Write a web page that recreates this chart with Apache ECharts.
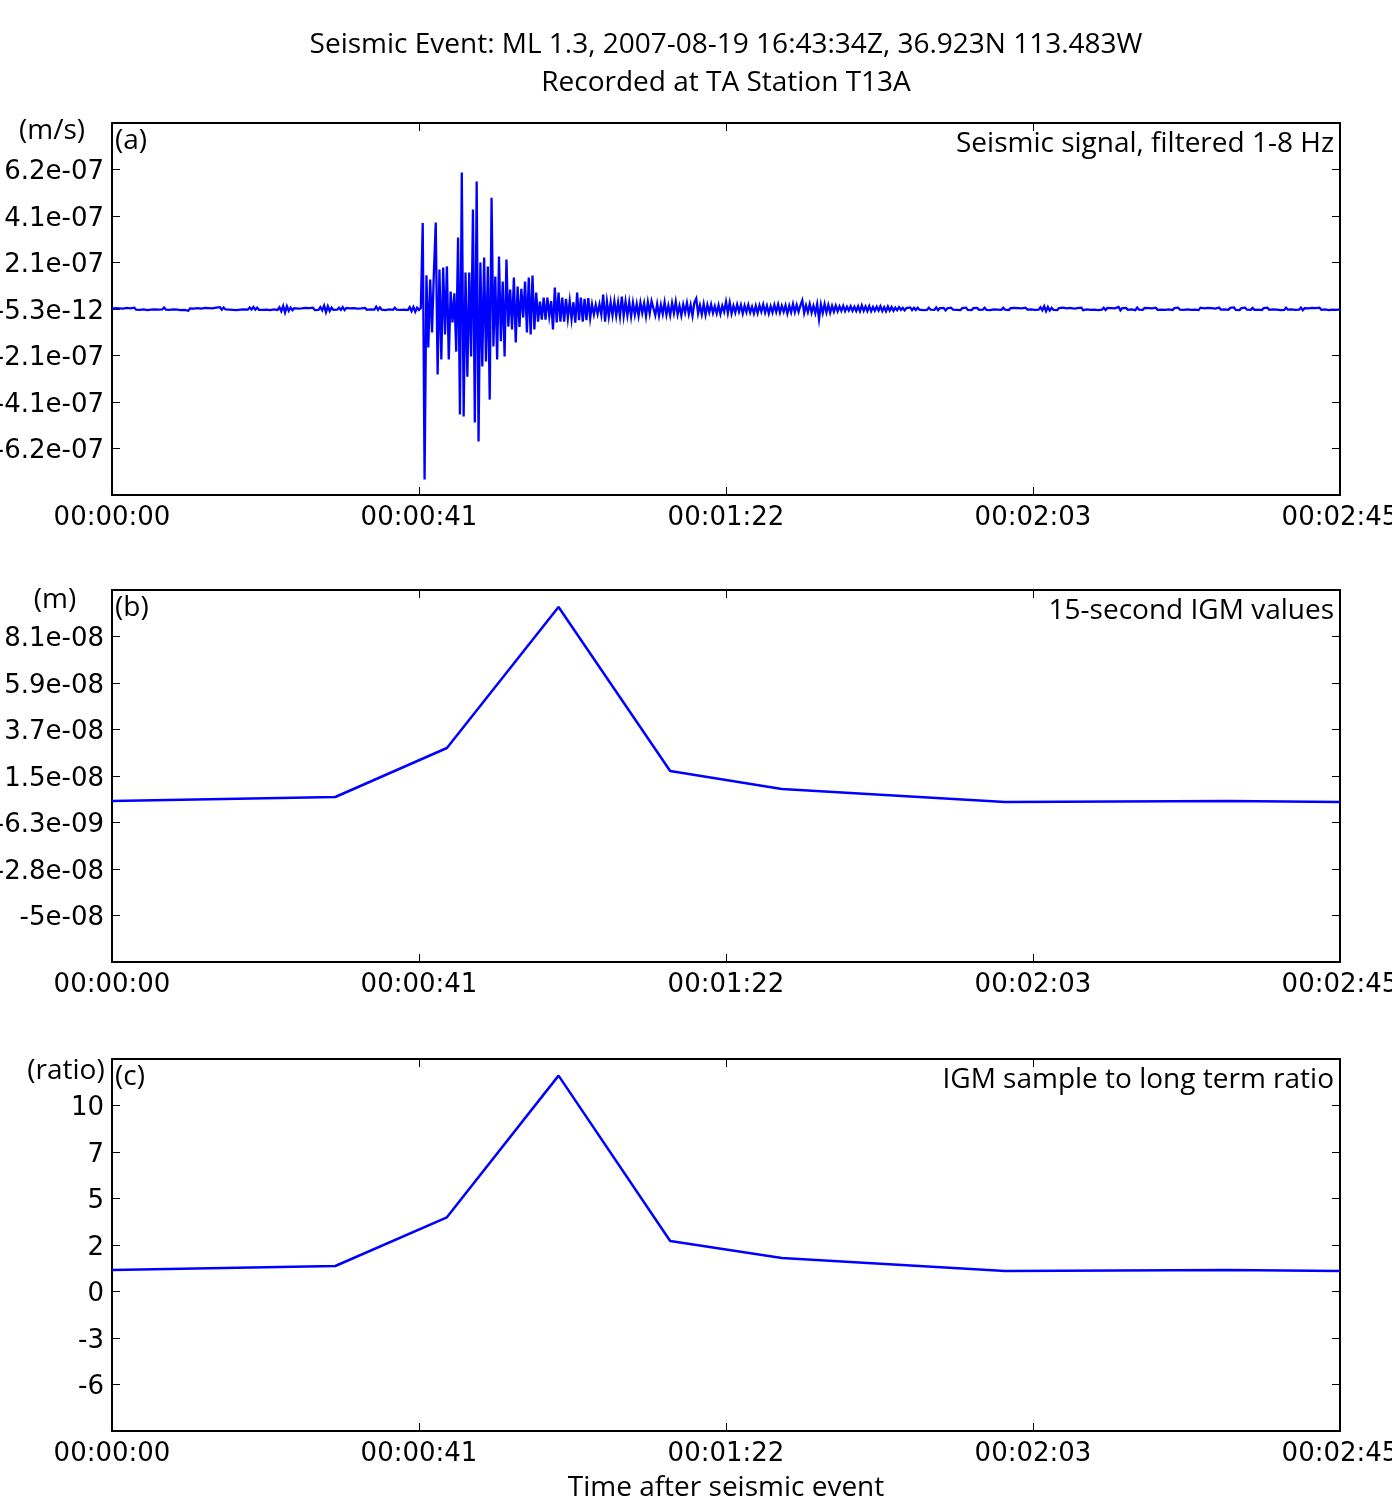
<!DOCTYPE html>
<html>
<head>
<meta charset="utf-8">
<script src="https://cdn.jsdelivr.net/npm/echarts@6/dist/echarts.min.js"></script>
<style>
html,body{margin:0;padding:0;background:#fff;}
#chart{width:1392px;height:1498px;}
</style>
</head>
<body>
<div id="chart"></div>
<script>
// ---------------- DATA ----------------
const titleLines = ['Seismic Event: ML 1.3, 2007-08-19 16:43:34Z, 36.923N 113.483W', 'Recorded at TA Station T13A'];
const xTickLabels = ['00:00:00', '00:00:41', '00:01:22', '00:02:03', '00:02:45'];
const xLabel = 'Time after seismic event';

// Panel (a): velocity in nm/s, one sample every 0.25 s from t = 0 s
const waveDt = 0.25;
const wavePreEvent = [
  2,-3,4,-2,3,-4,2,-3, 5,-2,3,-4,6,-3,2,-4, 3,-2,4,-5,2,-3,5,-2, 6,-3,4,-2,7,-3,5,-4, 3,-2,4,-3,2,-5,3,-4,
  -6,-8,3,-5,2,-4,4,-3, 2,-3,5,-2,4,-4,3,-2, 6,-2,8,-3,7,-2,4,-3, 3,-4,2,-5,3,-3,4,-2, 5,-3,7,-2,9,-3,6,-4,
  3,-4,2,-3,4,-5,3,-2, 5,-4,8,-10,14,-16,12,-8, 6,-5,4,-3,2,-6,3,-4, 5,-3,4,-4,6,-5,3,-4, 8,-6,15,-14,12,-9,6,-4,
  4,-3,6,-4,8,-5,5,-3, 3,-2,4,-3,2,-4,3,-3, 5,-4,3,-2,6,-3,10,-4, 7,-3,4,-5,3,-2,5,-4, 6,-3,4,-4,2,-3,4,-5, 8,-10,9,-12,6,-4,
  5
];
const waveBurst = [
  382,-756,150,-171,131,-104,162,384,-290,175,-224,184,-113,189,-224,77,-60,70,-189,317,
  -468,605,-477,162,-300,162,-211,441,-504,566,-588,206,-255,228,-233,189,-402,494,-166,144,
  -224,233,-143,122,-211,220,-78,86,-91,140,-149,100,-80,90,-38,122,-104,140,-113,149,
  -91,73,-56,33,-47,51,-47,51,-30,35,-91,95,-60,73,-56,51,-56,45,-40,35,
  -45,30,-61,73,-50,51,-56,45,-50,48,-40,20,-24,18,-22,20,-25,64,-56,33,
  -33,30,-28,33,-30,28,-33,55,-30,33,-28,30,-33,28
];
const waveCoda = [
  -25,22,-30,28,-18,25,-32,30,-20,35, 42,-28,22,-30,18,-22,30,-26,15,-28,
  26,-18,32,-24,14,-28,20,-16,27,-22, 18,-30,28,46,-20,16,-24,22,-26,18,
  -15,20,-18,12,-20,16,-22,14,-12,32, -18,28,-20,14,-16,20,-12,18,-20,15,
  -14,18,-16,10,-20,14,-18,16,-12,20, -16,14,-20,12,-15,18,-13,20,-16,14,
  -12,16,-20,14,-15,22,-14,18,-12,16, 38,-18,16,-14,22,-16,14,-18,22,-45,
  20,-18,22,-15,18,-16,14,-12,15,-10, 12,-8,14,-9,10,-7,12,-8,10,-9,
  12,-10,16,-8,11,-9,13,-10,9,-8, 10,-7,12,-9,8,-10,11,-7,9,-8
];
const waveTail = [
  6,-5,8,-4,5,-6,4,-3, 7,-5,5,-4,6,-3,4,-5, 3,-4,6,-3,5,-4,7,-5, 4,-3,5,-6,3,-4,6,-3, 5,-4,3,-5,4,-3,6,-4,
  3,-5,4,-3,5,-4,2,-3, 6,-4,4,-5,3,-2,5,-3, 4,-4,6,-3,3,-5,4,-2, 5,-3,4,-4,3,-5,6,-3, 4,-2,5,-4,3,-3,8,-6,
  12,-10,9,-7,5,-4,3,-5, 4,-3,6,-2,3,-4,5,-3, 2,-4,4,-3,6,-5,3,-2, 5,-4,3,-3,4,-5,2,-3, 6,-4,5,-3,4,-2,3,-5,
  9,-6,4,-3,5,-4,3,-2, 4,-5,6,-3,3,-4,5,-2, 4,-3,3,-5,6,-4,2,-3, 5,-4,4,-2,3,-5,4,-3, 6,-3,4,-4,3,-2,5,-4,
  3,-3,4,-5,6,-2,3,-4, 5,-3,4,-4,2,-5,6,-3, 4,-2,3,-4,5,-3,7,-4, 3,-5,4,-2,6,-3,3,-4, 5,-4,4,-3,2,-5,4,-3,
  6,-4,3,-2,5,-3,4,-5, 3,-4,6,-3,4,-2,5,-4, 3,-3,6,-5,4,-2,3,-4, 5,-3,4,-3,6,-4,3,-2, 4,-5,3,-3,5,-4,4,-2
];
const aTickLabels = ['-6.2e-07', '-4.1e-07', '-2.1e-07', '-5.3e-12', '2.1e-07', '4.1e-07', '6.2e-07'];

// Panel (b): 15-second IGM values (nm)
const igmTimes = [0, 15, 30, 45, 60, 75, 90, 105, 120, 135, 150, 165];
const igmValues = [3.76, 4.70, 5.64, 28.58, 94.59, 17.81, 9.38, 6.34, 3.30, 3.53, 3.76, 3.30];
const bTickLabels = ['-5e-08', '-2.8e-08', '-6.3e-09', '1.5e-08', '3.7e-08', '5.9e-08', '8.1e-08'];

// Panel (c): IGM sample to long term ratio
const ratioValues = [0.51, 0.64, 0.76, 3.84, 12.79, 2.34, 1.27, 0.86, 0.45, 0.48, 0.51, 0.45];
const cTickLabels = ['-6', '-3', '0', '2', '5', '7', '10'];

const panelNotes = [
  {tag: '(a)', desc: 'Seismic signal, filtered 1-8 Hz', unit: '(m/s)'},
  {tag: '(b)', desc: '15-second IGM values', unit: '(m)'},
  {tag: '(c)', desc: 'IGM sample to long term ratio', unit: '(ratio)'}
];

// ---------------- LAYOUT / AXES ----------------
const plotLeft = 112, plotRight = 1340, plotH = 372;
const panelTops = [123, 590, 1059];
const xStep = 41.25, xMax = 165;
const yAxesSpec = [
  {min: -825.2, max: 825.2, ticks: [-618.9, -412.6, -206.3, 0, 206.3, 412.6, 618.9], labels: aTickLabels},
  {min: -71.61, max: 102.55, ticks: [-49.84, -28.07, -6.3, 15.47, 37.24, 59.01, 80.78], labels: bTickLabels},
  {min: -9.664, max: 13.84, ticks: [-6.726, -3.788, -0.850, 2.088, 5.026, 7.964, 10.902], labels: cTickLabels}
];

const waveValues = [].concat(wavePreEvent, waveBurst, waveCoda, waveTail);
const waveData = waveValues.map((v, i) => [i * waveDt, v]);
const igmData = igmTimes.map((t, i) => [t, igmValues[i]]);
const ratioData = igmTimes.map((t, i) => [t, ratioValues[i]]);

const tickFont = 'DejaVu Sans';
const textFont = 'Open Sans';
const blue = '#0000ff';
const tickSize = 26, textSize = 28;

const grids = [], xAxes = [], yAxes = [];
panelTops.forEach((top, p) => {
  grids.push({left: plotLeft, top: top, width: plotRight - plotLeft, height: plotH,
    containLabel: false, outerBoundsMode: 'none'});
  const base = {
    type: 'value', gridIndex: p, min: 0, max: xMax, interval: xStep,
    axisLine: {show: true, onZero: false, lineStyle: {color: '#000', width: 2}},
    axisTick: {show: true, inside: true, length: 8, lineStyle: {color: '#000', width: 1}},
    splitLine: {show: false}
  };
  xAxes.push(Object.assign({}, base, {
    position: 'bottom',
    axisLabel: {show: true, margin: 10, color: '#000', fontFamily: tickFont, fontSize: tickSize,
      showMinLabel: true, showMaxLabel: true, hideOverlap: false,
      formatter: v => xTickLabels[Math.round(v / xStep)] || ''}
  }));
  xAxes.push(Object.assign({}, base, {position: 'top', axisLabel: {show: false}}));
  const s = yAxesSpec[p];
  const ybase = {
    type: 'value', gridIndex: p, min: s.min, max: s.max,
    axisLine: {show: true, onZero: false, lineStyle: {color: '#000', width: 2}},
    axisTick: {show: true, inside: true, length: 8, customValues: s.ticks, lineStyle: {color: '#000', width: 1}},
    splitLine: {show: false}
  };
  yAxes.push(Object.assign({}, ybase, {
    position: 'left',
    axisLabel: {show: true, margin: 8, color: '#000', fontFamily: tickFont, fontSize: tickSize,
      customValues: s.ticks,
      rich: {v: {fontFamily: tickFont, fontSize: tickSize, color: '#000', padding: [6, 0, 0, 0]}},
      formatter: v => {
        let best = 0, bd = Infinity;
        s.ticks.forEach((t, k) => { const d = Math.abs(t - v); if (d < bd) { bd = d; best = k; } });
        return '{v|' + s.labels[best] + '}';
      }}
  }));
  yAxes.push(Object.assign({}, ybase, {position: 'right', axisLabel: {show: false}}));
});

const textStyle = (text, align) => ({text: text, font: textSize + 'px "' + textFont + '"', fill: '#000',
  align: align, verticalAlign: 'middle'});
const graphics = [];
titleLines.forEach((t, i) => graphics.push({type: 'text', x: 726, y: 45 + i * 38, style: textStyle(t, 'center')}));
const unitCenters = [[52, 131], [55, 600], [66, 1071]];
panelNotes.forEach((n, p) => {
  const top = panelTops[p];
  graphics.push({type: 'text', x: plotLeft + 3, y: top + 18, style: textStyle(n.tag, 'left')});
  graphics.push({type: 'text', x: plotRight - 6, y: top + 21, style: textStyle(n.desc, 'right')});
  graphics.push({type: 'text', x: unitCenters[p][0], y: unitCenters[p][1], style: textStyle(n.unit, 'center')});
});
graphics.push({type: 'text', x: 726, y: 1488, style: textStyle(xLabel, 'center')});

const option = {
  animation: false,
  backgroundColor: '#fff',
  grid: grids,
  xAxis: xAxes,
  yAxis: yAxes,
  series: [
    {type: 'line', xAxisIndex: 0, yAxisIndex: 0, data: waveData, showSymbol: false, symbol: 'none',
      sampling: null, lineStyle: {color: blue, width: 2.3, join: 'miter'}, clip: true},
    {type: 'line', xAxisIndex: 2, yAxisIndex: 2, data: igmData, showSymbol: false, symbol: 'none',
      lineStyle: {color: blue, width: 2.5}, clip: true},
    {type: 'line', xAxisIndex: 4, yAxisIndex: 4, data: ratioData, showSymbol: false, symbol: 'none',
      lineStyle: {color: blue, width: 2.5}, clip: true}
  ],
  graphic: graphics
};

const chart = echarts.init(document.getElementById('chart'), null, {renderer: 'canvas'});
chart.setOption(option);
</script>
</body>
</html>
